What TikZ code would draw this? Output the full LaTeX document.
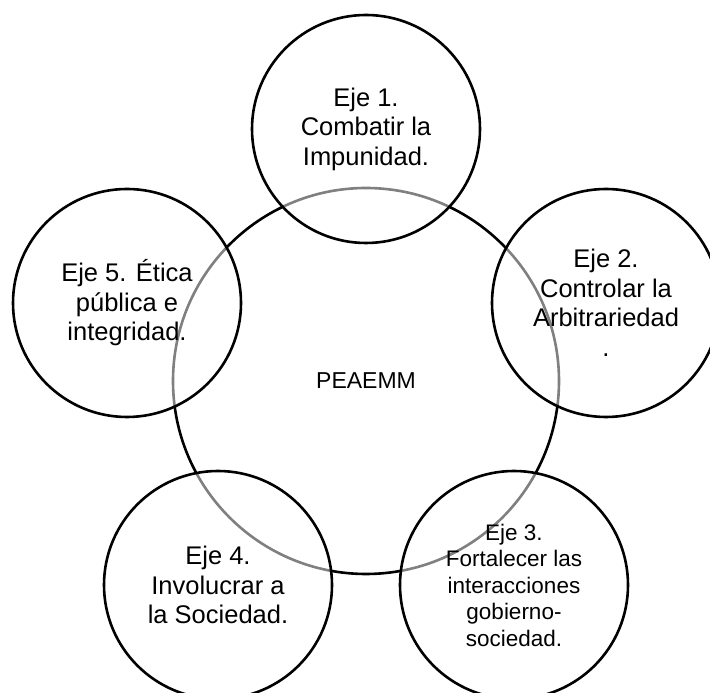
\documentclass[tikz,border=0pt]{standalone}
\usepackage{fontspec}
\setmainfont{Liberation Sans}
\tikzset{
	centro/.style={circle, draw, line width=2.6pt, minimum size=386pt, inner sep=0pt, align=center, font=\fontsize{23}{27}\selectfont},
	eje/.style={circle, draw, line width=2.6pt, fill=white, fill opacity=0.5, text opacity=1, minimum size=228pt, inner sep=0pt, align=center, font=\fontsize{25.5}{29.5}\selectfont}
}
\begin{document}
\begin{tikzpicture}[x=1pt, y=1pt]
		\useasboundingbox (0,0) rectangle (710,693);

		\node[centro] (peaemm) at (366,312) {PEAEMM};

		\node[eje] (eje1) at (366,564) {Eje 1.\\Combatir la\\Impunidad.};
		\node[eje] (eje2) at (606,390) {Eje 2.\\Controlar la\\Arbitrariedad\\.};
		\node[eje, font=\fontsize{22.5}{26.5}\selectfont] (eje3) at (514,108) {Eje 3.\\Fortalecer las\\interacciones\\gobierno-\\sociedad.};
		\node[eje] (eje4) at (218,108) {Eje 4.\\Involucrar a\\la Sociedad.};
		\node[eje] (eje5) at (127,390) {Eje 5. Ética\\pública e\\integridad.};
	\end{tikzpicture}
\end{document}
